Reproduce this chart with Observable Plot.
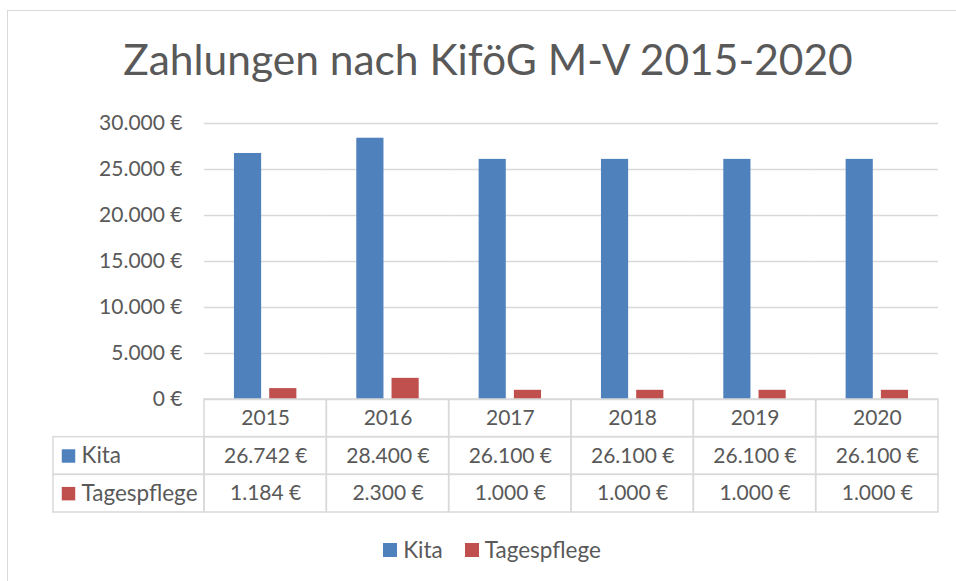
<!DOCTYPE html>
<html>
<head>
<meta charset="utf-8">
<script src="https://cdn.jsdelivr.net/npm/d3@7"></script>
<script src="https://cdn.jsdelivr.net/npm/@observablehq/plot@0.6"></script>
<style>
  html, body { margin: 0; padding: 0; background: #fff; }
  body { width: 956px; height: 581px; overflow: hidden; font-family: Lato, "Open Sans", sans-serif; color: #595959; }
  #wrap { position: relative; width: 956px; height: 581px; }
  #border { position: absolute; left: 7px; top: 10px; width: 1000px; height: 700px; border: 1.5px solid #d9d9d9; box-sizing: border-box; }
  #title { position: absolute; left: 0; width: 976px; top: 33px; text-align: center; font-size: 42.5px; line-height: 52px; color: #595959; white-space: nowrap; }
  .layer { position: absolute; left: 0; }
  #legend { position: absolute; left: 0; width: 1006px; top: 533px; display: flex; justify-content: center; }
  .lg-swatch > svg { margin-right: 6px !important; }
  .lg-swatch { margin-right: 22px !important; }
</style>
</head>
<body>
<div id="wrap">
  <div id="border"></div>
  <div id="title">Zahlungen nach KiföG M-V 2015-2020</div>
</div>
<script>
// ---- data ----
const years = ["2015", "2016", "2017", "2018", "2019", "2020"];
const series = ["Kita", "Tagespflege"];
const kita = [26742, 28400, 26100, 26100, 26100, 26100];
const tagespflege = [1184, 2300, 1000, 1000, 1000, 1000];
const yTicks = [0, 5000, 10000, 15000, 20000, 25000, 30000];
const colors = ["#4F81BD", "#C0504D"];

// long table built from the arrays
const rows = [];
years.forEach((y, i) => {
  rows.push({year: y, series: "Kita", value: kita[i]});
  rows.push({year: y, series: "Tagespflege", value: tagespflege[i]});
});

const de = d3.formatLocale({decimal: ",", thousands: ".", grouping: [3], currency: ["", "\u00a0€"]});
const eur = de.format("$,.0f");

const W = 956, ML = 204, MR = 18;
const font = "Lato, 'Open Sans', sans-serif";
const textColor = "#595959";
const gridColor = "#d9d9d9";

// ---- chart ----
const chart = Plot.plot({
  width: W,
  height: 400,
  marginLeft: ML,
  marginRight: MR,
  marginTop: 123,
  marginBottom: 1,
  style: {fontFamily: font, fontSize: "21px", color: textColor, background: "transparent", overflow: "visible"},
  fx: {domain: years, padding: 0, round: false, axis: null},
  x: {domain: series, paddingInner: 0.229, paddingOuter: 0.85, round: false, axis: null},
  y: {domain: [0, 30000], axis: null, label: null},
  color: {domain: series, range: colors},
  marks: [
    Plot.gridY(yTicks, {stroke: gridColor, strokeOpacity: 1, strokeWidth: 1.5}),
    Plot.axisY(yTicks, {tickSize: 0, tickPadding: 22, tickFormat: eur, fontSize: 21, fill: textColor, label: null, facetAnchor: "left"}),
    Plot.barY(rows, {fx: "year", x: "series", y: "value", fill: "series"})
  ]
});
chart.classList.add("layer");
chart.style.top = "0px";
document.getElementById("wrap").appendChild(chart);

// ---- data table ----
const tableRows = ["header", ...series];
const cells = [];
years.forEach(y => tableRows.forEach(r => cells.push({year: y, row: r})));
const valueCells = rows.map(d => ({year: d.year, row: d.series, label: eur(d.value)}));
const frameW = W - ML - MR;

const table = Plot.plot({
  width: W,
  height: 115,
  marginLeft: ML,
  marginRight: MR,
  marginTop: 1,
  marginBottom: 1,
  style: {fontFamily: font, fontSize: "21px", color: textColor, background: "transparent", overflow: "visible"},
  x: {domain: years, padding: 0, round: false, axis: null},
  y: {domain: tableRows, padding: 0, round: false, axis: null},
  color: {domain: series, range: colors},
  marks: [
    Plot.cell(cells, {x: "year", y: "row", fill: "none", stroke: gridColor, strokeWidth: 1.5}),
    Plot.cell(series, {y: d => d, fill: "none", stroke: gridColor, strokeWidth: 1.5, insetLeft: -(ML - 53), insetRight: frameW}),
    Plot.text(years, {x: d => d, y: () => "header", text: d => d, fontSize: 21, fill: textColor}),
    Plot.text(valueCells, {x: "year", y: "row", text: "label", fontSize: 21, fill: textColor}),
    Plot.dot(series, {y: d => d, frameAnchor: "left", dx: -136, symbol: "square", r: 7.6, fill: d => d, stroke: null}),
    Plot.text(series, {y: d => d, frameAnchor: "left", dx: -123, textAnchor: "start", text: d => d, fontSize: 22.5, fill: textColor})
  ]
});
table.classList.add("layer");
table.style.top = "398px";
document.getElementById("wrap").appendChild(table);

// ---- legend ----
const legend = Plot.legend({
  color: {domain: series, range: colors},
  legend: "swatches",
  swatchSize: 14,
  className: "lg",
  style: {fontFamily: font, fontSize: "22.5px", color: textColor}
});
const legWrap = document.createElement("div");
legWrap.id = "legend";
legWrap.appendChild(legend);
document.getElementById("wrap").appendChild(legWrap);
</script>
</body>
</html>
